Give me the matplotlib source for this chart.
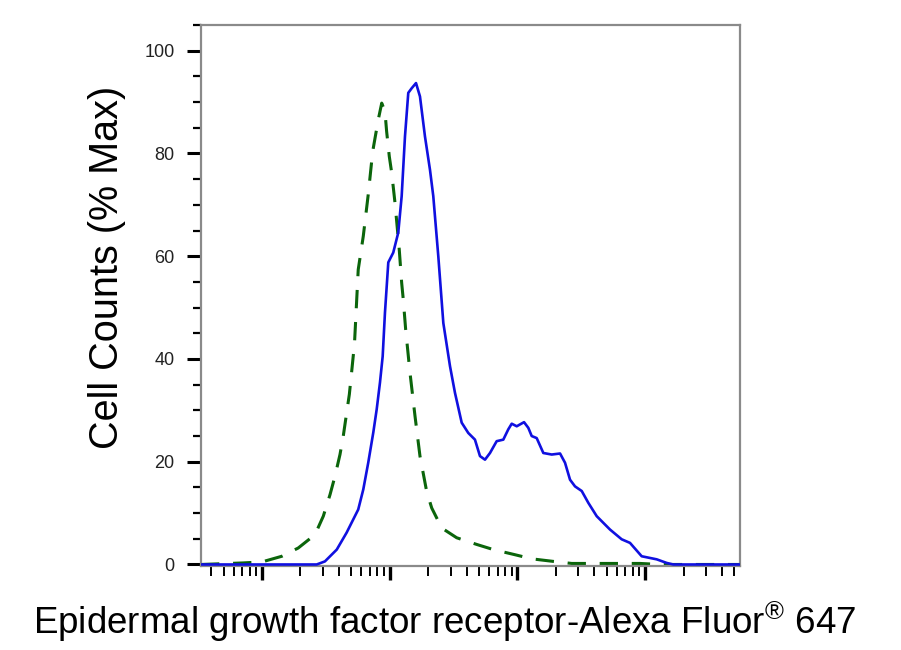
import numpy as np
import matplotlib
matplotlib.use("Agg")
import matplotlib.pyplot as plt
from matplotlib.ticker import LogLocator, MultipleLocator, NullFormatter

# Probka (niebieska, ciagla)
probka_x = [3.33, 26.8, 31.1, 38.5, 46.0, 56.7, 62.1, 67.9, 74.4, 79.1, 83.9, 88.1,
            91.8, 97.5, 106.6, 116.7, 124.1, 131.7, 139.8, 148.7, 160.7, 172.6,
            188.9, 206.8, 219.4, 240.2, 263.0, 296.6, 324.5, 366.2, 412.3, 465.1,
            509.2, 557.4, 610.1, 688.0, 775.5, 848.4, 902.5, 988.0, 1127, 1217,
            1294, 1416, 1596, 1857, 2158, 2360, 2583, 2826, 3190, 3592, 4179,
            5310, 6556, 7617, 9400, 12330, 14760, 16630, 55340]
probka_y = [0, 0, 0.6, 2.9, 6.2, 10.7, 14.6, 19.8, 25.7, 30.2, 35.4, 40.5,
            49.0, 58.8, 60.7, 64.6, 71.7, 83.3, 91.8, 92.7, 93.7, 91.1,
            83.3, 76.8, 71.7, 60.0, 47.0, 38.6, 33.4, 27.6, 25.6, 24.3,
            21.1, 20.4, 21.7, 24.0, 24.3, 26.3, 27.4, 26.9, 27.7, 26.6,
            25.0, 24.6, 21.7, 21.4, 21.6, 19.8, 16.5, 15.2, 14.3, 12.0, 9.4,
            6.8, 4.9, 4.2, 1.6, 1.0, 0.3, 0, 0]

# Kontrola izotypowa (zielona, przerywana)
kontrola_x = [3.33, 7.1, 10.0, 14.3, 19.2, 26.0, 30.2, 34.1, 37.3, 40.8, 43.3,
              46.0, 48.3, 50.4, 53.0, 56.7, 62.1, 67.9, 73.6, 81.4, 86.6, 91.8,
              94.6, 99.3, 103.7, 110.0, 118.8, 124.1, 127.7, 133.4, 144.2,
              157.8, 172.6, 194.8, 213.3, 255.5, 334.7, 480.2, 647.7, 957.4,
              1294, 1910, 2661, 4436, 9120, 13090, 55340]
kontrola_y = [0, 0.3, 0.5, 1.6, 3.2, 5.8, 9.4, 13.6, 17.2, 21.4, 25.0,
              29.5, 33.1, 37.6, 43.0, 57.4, 63.9, 72.0, 80.4, 86.6, 89.8, 88.2,
              84.3, 79.4, 76.2, 70.4, 61.3, 54.8, 51.6, 45.7, 37.3,
              28.9, 21.1, 14.2, 11.0, 7.1, 5.2, 3.9, 2.9, 1.9,
              1.1, 0.6, 0.2, 0.2, 0.2, 0, 0]

plt.rcParams['font.family'] = ['Liberation Sans', 'DejaVu Sans']
plt.rcParams['mathtext.fontset'] = 'custom'
plt.rcParams['mathtext.rm'] = 'Liberation Sans'

fig = plt.figure(figsize=(9.01, 6.5), dpi=100)
ax = fig.add_axes([0.2231, 0.1292, 0.5982, 0.8323])

ax.plot(kontrola_x, kontrola_y, color='#0b650b', lw=2.2, dashes=(6, 4.5), zorder=2)
ax.plot(probka_x, probka_y, color='#1010e0', lw=1.9, zorder=3)

ax.set_xscale('log')
ax.set_xlim(3.33, 55340)
ax.set_ylim(-0.3, 105)

ax.xaxis.set_major_locator(LogLocator(base=10, numticks=10))
ax.xaxis.set_minor_locator(LogLocator(base=10, subs=np.arange(2, 10), numticks=20))
ax.xaxis.set_major_formatter(NullFormatter())
ax.xaxis.set_minor_formatter(NullFormatter())
ax.yaxis.set_major_locator(MultipleLocator(20))
ax.yaxis.set_minor_locator(MultipleLocator(5))

for s in ax.spines.values():
    s.set_color('#8a8a8a')
    s.set_linewidth(1.6)

ax.tick_params(axis='both', which='major', direction='out', length=10, width=2.2,
               color='black', labelsize=13, labelcolor='#222222', pad=9)
ax.tick_params(axis='both', which='minor', direction='out', length=6, width=1.6,
               color='black')
ax.tick_params(axis='x', which='major', length=10, width=2.4)
ax.tick_params(axis='x', which='minor', length=7, width=1.4)

fig.text(0.119, 0.588, 'Cell Counts (% Max)', rotation=90, ha='center', va='center',
         fontsize=28.5)
fig.text(0.493, 0.043, r'Epidermal growth factor receptor-Alexa Fluor$^{\mathrm{®}}$ 647',
         ha='center', va='center', fontsize=26.5)

fig.savefig('out.png', dpi=100)
